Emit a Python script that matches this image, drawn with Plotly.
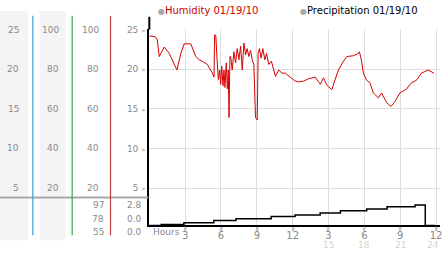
import plotly.graph_objects as go

W, H = 442, 253
def px(x): return x / W
def py(y): return 1 - y / H

# ---- data ----
hum_hours = [0, 0.5, 0.67, 0.83, 1.25, 1.67, 2.31, 2.64, 2.92, 3.47, 3.89, 4.17, 4.44, 4.86, 5.28,
             5.42, 5.46, 5.56, 5.69, 5.78, 5.89, 5.97, 6.06, 6.17, 6.25, 6.33, 6.44, 6.53, 6.61, 6.67,
             6.75, 6.81, 6.94, 7.08, 7.22, 7.36, 7.5, 7.64, 7.78, 7.92, 8.06, 8.19, 8.33, 8.47, 8.61,
             8.75, 8.89, 9.03, 9.11, 9.22, 9.36, 9.5, 9.67, 9.81, 10.0, 10.22, 10.56, 10.83, 11.11, 11.39,
             11.53, 12.22, 12.5, 12.92, 13.33, 13.89, 14.31, 14.58, 14.86, 15.28, 15.42, 15.83, 16.25, 16.53,
             17.08, 17.5, 17.58, 17.72, 17.92, 18.19, 18.47, 18.75, 19.17, 19.44, 19.86, 20.22, 20.56, 20.97,
             21.53, 21.94, 22.36, 22.78, 23.33, 23.83]
humidity = [24.2, 24.1, 23.7, 21.6, 22.8, 22.0, 19.9, 22.0, 23.2, 23.2, 21.6, 21.2, 21.0, 20.6, 19.5,
            19.0, 24.3, 24.3, 20.8, 18.7, 19.9, 18.1, 20.4, 17.9, 19.9, 17.7, 20.8, 17.5, 19.9, 13.9,
            21.6, 21.6, 19.9, 22.2, 20.8, 22.6, 21.2, 22.9, 19.9, 23.3, 21.8, 22.6, 21.6, 22.4, 21.2,
            20.6, 13.9, 13.6, 22.0, 22.6, 21.4, 22.6, 21.2, 22.0, 20.6, 21.0, 19.1, 19.9, 19.5, 19.5,
            19.3, 18.5, 18.4, 18.5, 18.8, 19.0, 18.1, 18.9, 18.0, 17.4, 18.1, 19.9, 21.0, 21.6,
            21.7, 22.0, 22.2, 21.4, 19.5, 18.6, 18.3, 17.0, 16.4, 17.0, 15.8, 15.3, 15.9, 17.0,
            17.5, 18.3, 18.6, 19.5, 19.9, 19.5]

precip_hours = [0, 1.0, 2.9, 5.4, 7.25, 10.2, 12.2, 14.3, 16.0, 18.2, 19.9, 22.25, 23.1, 23.9]
precip = [0.0, 0.13, 0.36, 0.67, 0.89, 1.2, 1.43, 1.69, 2.0, 2.23, 2.53, 2.76, 0.0, 0.0]

hum_ticks = [25, 20, 15, 10, 5]
col1_labels = ["25", "20", "15", "10", "5"]
col2_labels = ["100", "80", "60", "40", "20"]
col3_labels = ["100", "80", "60", "40", "20"]
col3_stats = ["97", "78", "55"]
col4_stats = ["2.8", "0.0", "0.0"]

x_ticks = [3, 6, 9, 12, 15, 18, 21, 24]
x_ticktext = ["3", "6", "9", "12", "3", "6", "9", "12"]
x_ticks24 = [15, 18, 21, 24]
x_text24 = ["15", "18", "21", "24"]

series_names = ["Humidity 01/19/10", "Precipitation 01/19/10"]
series_colors = ["#cc0000", "#000000"]

FONT = "DejaVu Sans"
GRAY = "#8a8a8a"

fig = go.Figure()
fig.add_trace(go.Scatter(x=hum_hours, y=humidity, mode="lines", xaxis="x", yaxis="y",
                         line=dict(color="#d40000", width=1), name=series_names[0], showlegend=False))
fig.add_trace(go.Scatter(x=precip_hours, y=precip, mode="lines", xaxis="x2", yaxis="y2",
                         line=dict(color="#000000", width=1.5, shape="hv"), name=series_names[1],
                         showlegend=False))

xr = [0, 24 * (292 / 288)]
fig.update_layout(
    width=W, height=H, autosize=False,
    margin=dict(l=0, r=0, t=0, b=0),
    paper_bgcolor="white", plot_bgcolor="white",
    font=dict(family=FONT, size=9, color=GRAY),
    xaxis=dict(domain=[px(150), 1], range=xr, anchor="y", showticklabels=False,
               showgrid=True, gridcolor="#dedede", gridwidth=1, tickvals=x_ticks,
               zeroline=False, showline=False, ticks=""),
    xaxis2=dict(domain=[px(150), 1], range=xr, anchor="y2", matches="x",
                showgrid=True, gridcolor="#dedede", gridwidth=1,
                tickvals=x_ticks, ticktext=x_ticktext, ticks="", ticklabelstandoff=0,
                ticklabeloverflow="allow",
                tickfont=dict(family=FONT, size=10, color=GRAY),
                zeroline=False, showline=True, linecolor="black", linewidth=2),
    yaxis=dict(domain=[py(197), py(25.6)], range=[3.76, 25.05], anchor="x",
               tickvals=hum_ticks,
               ticktext=[f"{t} <span style='font-size:7px;color:#999'>»</span>" for t in col1_labels],
               ticks="", showgrid=True, gridcolor="#dedede", zeroline=False,
               showline=True, linecolor="black", linewidth=2,
               tickfont=dict(family=FONT, size=9, color=GRAY)),
    yaxis2=dict(domain=[py(225), py(197)], range=[0, 3.73], anchor="x2",
                showticklabels=False, showgrid=False, zeroline=False, ticks="",
                showline=True, linecolor="black", linewidth=2),
)

shapes = []
for x0, x1 in [(0, 28), (40, 66)]:
    shapes.append(dict(type="rect", xref="paper", yref="paper", x0=px(x0), x1=px(x1),
                       y0=py(240), y1=py(7), fillcolor="#f4f4f4", line=dict(width=0), layer="below"))
shapes.append(dict(type="line", xref="paper", yref="paper", x0=0, x1=px(149),
                   y0=py(196.5), y1=py(196.5), line=dict(color="#a8a8a8", width=2)))
for xc, col in [(33, "#3d9dd0"), (72.5, "#3aa53a"), (111, "#c43c3c")]:
    shapes.append(dict(type="line", xref="paper", yref="paper", x0=px(xc), x1=px(xc),
                       y0=py(235), y1=py(12), line=dict(color=col, width=1.2)))
shapes.append(dict(type="line", xref="paper", yref="paper", x0=px(150), x1=px(150),
                   y0=py(26), y1=py(13), line=dict(color="black", width=2)))
fig.update_layout(shapes=shapes)

ann = []
for v, t in zip(hum_ticks, col1_labels):
    ann.append(dict(x=px(21), y=v, xref="paper", yref="y", text=t, showarrow=False,
                    xanchor="right", yanchor="middle", font=dict(family=FONT, size=9, color=GRAY)))
for v, t in zip(hum_ticks, col2_labels):
    ann.append(dict(x=px(61), y=v, xref="paper", yref="y", text=t, showarrow=False,
                    xanchor="right", yanchor="middle", font=dict(family=FONT, size=9, color=GRAY)))
for v, t in zip(hum_ticks, col3_labels):
    ann.append(dict(x=px(101), y=v, xref="paper", yref="y", text=t, showarrow=False,
                    xanchor="right", yanchor="middle", font=dict(family=FONT, size=9, color=GRAY)))
for yy, t3, t4 in zip([204, 218, 232], col3_stats, col4_stats):
    ann.append(dict(x=px(106), y=py(yy), xref="paper", yref="paper", text=t3, showarrow=False,
                    xanchor="right", yanchor="middle", font=dict(family=FONT, size=9, color=GRAY)))
    ann.append(dict(x=px(145), y=py(yy), xref="paper", yref="paper", text=t4, showarrow=False,
                    xanchor="right", yanchor="middle", font=dict(family=FONT, size=9, color=GRAY)))
for xv in x_ticks:
    ann.append(dict(x=xv, y=py(228.5), xref="x2", yref="paper", text="≈", textangle=90,
                    showarrow=False, xanchor="center", yanchor="middle", borderpad=0,
                    font=dict(family=FONT, size=7, color="#888")))
for i, (xv, t) in enumerate(zip(x_ticks24, x_text24)):
    ann.append(dict(x=xv, y=py(245), xref="x2", yref="paper", text=t, showarrow=False,
                    xanchor="center", yanchor="middle", xshift=(-3 if i == len(x_ticks24) - 1 else 0),
                    font=dict(family=FONT, size=9, color="#d4d4d4")))
ann.append(dict(x=px(152), y=py(232), xref="paper", yref="paper", text="Hours", showarrow=False,
                xanchor="left", yanchor="middle", font=dict(family=FONT, size=9, color=GRAY)))
for xl, name, col in zip([157, 299], series_names, series_colors):
    ann.append(dict(x=px(xl), y=py(7), xref="paper", yref="paper",
                    text=f"<span style='color:#a8a8a8;font-size:8px'>●</span>{name}",
                    showarrow=False, xanchor="left", yanchor="middle",
                    font=dict(family=FONT, size=10, color=col)))
fig.update_layout(annotations=ann)

fig.write_html("out.html")
